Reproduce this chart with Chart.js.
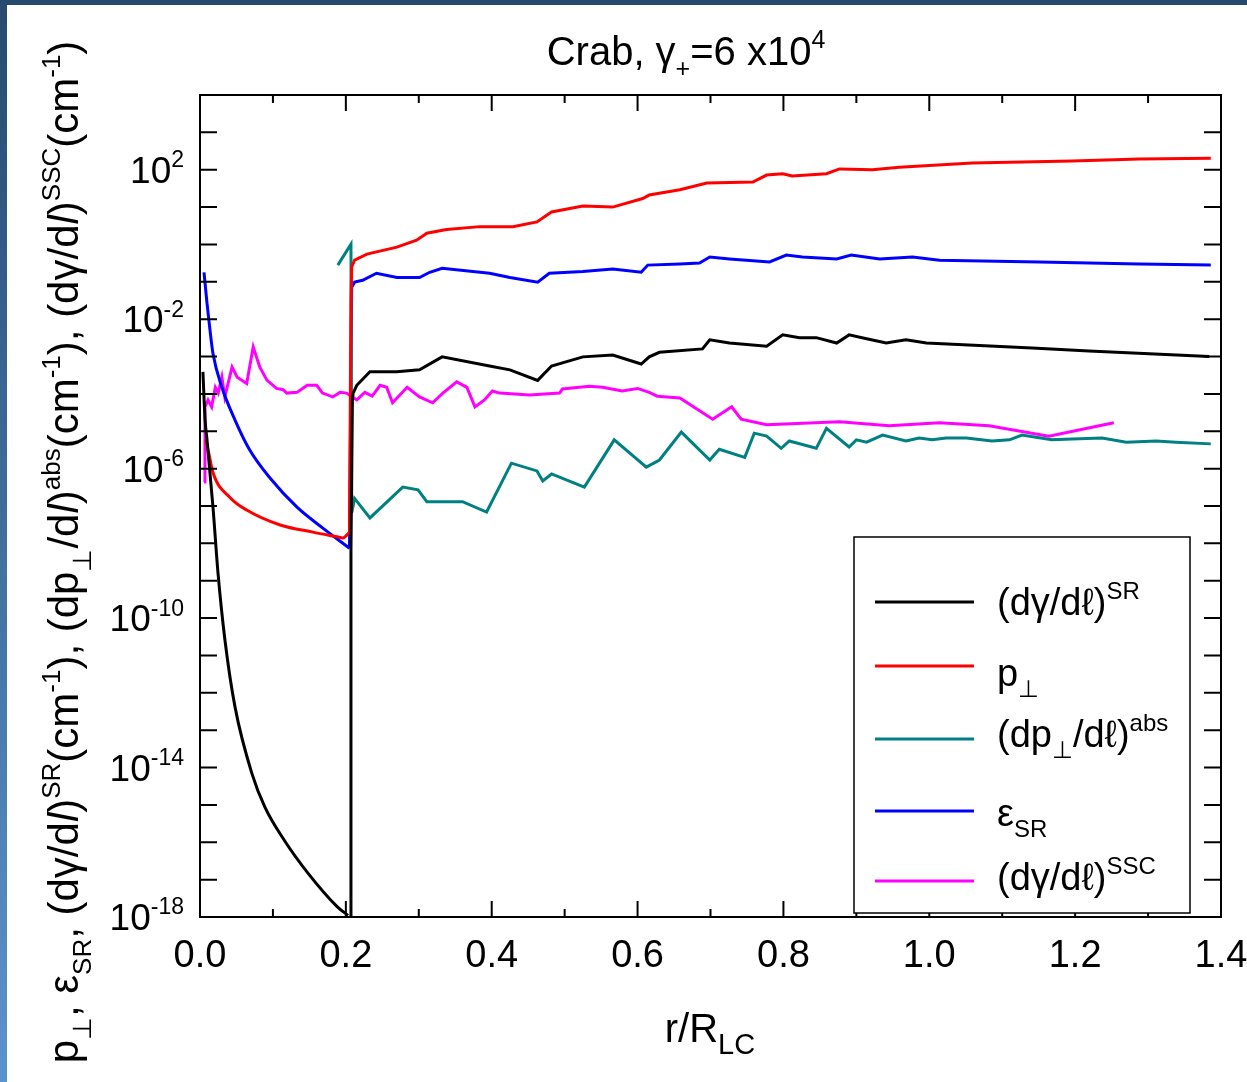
<!DOCTYPE html>
<html>
<head>
<meta charset="utf-8">
<script src="https://cdn.jsdelivr.net/npm/chart.js@4.4.1/dist/chart.umd.min.js"></script>
<style>
  html, body { margin: 0; padding: 0; background: #fff; }
</style>
</head>
<body>
<canvas id="myChart" width="1247" height="1082"></canvas>
<script>
// values (x = r/R_LC); each series split into the smooth part
// inside r < 0.2 and the jagged part after the jump at r ~ 0.2
var srLeftX = [0.004, 0.007, 0.0096, 0.0178, 0.0247, 0.0342, 0.048, 0.071, 0.089, 0.116, 0.148, 0.188, 0.203];
var srLeftY = [3.9e-4, 2.0e-5, 5.9e-6, 9.3e-8, 1.6e-9, 2.6e-11, 4.2e-13, 7.1e-15, 8.7e-16, 1.1e-16, 1.5e-17, 1.9e-18, 1.1e-18];
var srRightX = [0.207, 0.207, 0.209, 0.210, 0.215, 0.233, 0.270, 0.301, 0.332, 0.397, 0.425, 0.463, 0.482, 0.525, 0.566, 0.605,
  0.616, 0.630, 0.689, 0.699, 0.726, 0.777, 0.799, 0.822, 0.845, 0.873, 0.890, 0.914, 0.941, 0.968, 0.996, 1.141,
  1.219, 1.384];
var srRightY = [1e-18, 6.6e-9, 6.9e-5, 1.05e-4, 1.7e-4, 3.9e-4, 3.9e-4, 4.4e-4, 9.8e-4, 5.6e-4, 4.4e-4, 2.3e-4, 5.6e-4, 9.8e-4, 1.1e-3, 6.3e-4,
  9.8e-4, 1.3e-3, 1.6e-3, 2.8e-3, 2.3e-3, 1.9e-3, 3.8e-3, 3.2e-3, 3.2e-3, 2.3e-3, 3.8e-3, 3.0e-3, 2.3e-3, 2.8e-3, 2.3e-3, 1.7e-3,
  1.4e-3, 1.0e-3];

var pLeftX = [0.008, 0.012, 0.018, 0.041, 0.064, 0.110, 0.155, 0.188, 0.196, 0.205];
var pLeftY = [5.9e-6, 2.6e-6, 7.6e-7, 1.7e-7, 7.8e-8, 3.1e-8, 2.0e-8, 1.5e-8, 1.4e-8, 2.0e-8];
var pRightX = [0.205, 0.207, 0.208, 0.212, 0.229, 0.270, 0.297,
  0.311, 0.338, 0.384, 0.429, 0.462, 0.482, 0.525, 0.566, 0.607, 0.616, 0.658, 0.695, 0.758, 0.777, 0.799, 0.812, 0.859,
  0.877, 0.922, 0.959, 1.059, 1.196, 1.288, 1.386];
var pRightY = [2.0e-8, 3.2e-2, 0.25, 0.38, 0.55, 0.85, 1.3,
  2.0, 2.5, 3.0, 3.0, 4.0, 7.4, 10.7, 10, 17, 21, 29, 44, 47, 72, 78, 68, 78,
  105, 100, 117, 151, 170, 195, 204];

var absX = [0.189, 0.207, 0.208, 0.212, 0.233, 0.278, 0.299, 0.311, 0.360, 0.393, 0.427, 0.462, 0.470, 0.482, 0.527, 0.568,
  0.612, 0.630, 0.660, 0.699, 0.712, 0.747, 0.760, 0.777, 0.797, 0.808, 0.845, 0.859, 0.890, 0.900, 0.914, 0.936, 0.968,
  0.986, 1.004, 1.023, 1.051, 1.086, 1.110, 1.127, 1.168, 1.196, 1.237, 1.270, 1.311, 1.338, 1.386];
var absY = [0.28, 1.02, 6.5e-8, 1.6e-7, 4.8e-8, 3.2e-7, 2.7e-7, 1.3e-7, 1.3e-7, 6.9e-8, 1.4e-6, 8.7e-7, 4.7e-7, 7.2e-7, 3.2e-7, 5.9e-6,
  1.1e-6, 1.7e-6, 9.5e-6, 1.7e-6, 3.3e-6, 2.0e-6, 8.9e-6, 7.4e-6, 3.5e-6, 5.5e-6, 3.5e-6, 1.2e-5, 3.8e-6, 5.9e-6, 5.1e-6, 7.9e-6, 5.5e-6,
  6.6e-6, 5.9e-6, 6.6e-6, 6.6e-6, 5.5e-6, 5.9e-6, 7.9e-6, 5.9e-6, 6.2e-6, 6.6e-6, 5.1e-6, 5.5e-6, 5.1e-6, 4.6e-6];

var epsLeftX = [0.0055, 0.0096, 0.0137, 0.0178, 0.030, 0.048, 0.068, 0.096, 0.133, 0.168, 0.205];
var epsLeftY = [0.18, 2.7e-2, 5.1e-3, 1.2e-3, 1.5e-4, 2.0e-5, 3.2e-6, 5.6e-7, 9.3e-8, 2.6e-8, 7.4e-9];
var epsRightX = [0.205, 0.208, 0.212, 0.223, 0.242,
  0.270, 0.301, 0.315, 0.332, 0.397, 0.425, 0.463, 0.479, 0.525, 0.566, 0.605, 0.614, 0.658, 0.685, 0.699, 0.726, 0.781,
  0.804, 0.826, 0.873, 0.893, 0.932, 0.977, 1.014, 1.151, 1.288, 1.386];
var epsRightY = [7.4e-9, 7.2e-2, 9.8e-2, 0.11, 0.17,
  0.13, 0.13, 0.18, 0.23, 0.17, 0.13, 9.8e-2, 0.17, 0.19, 0.22, 0.18, 0.28, 0.30, 0.32, 0.46, 0.41, 0.34,
  0.52, 0.46, 0.41, 0.52, 0.41, 0.46, 0.38, 0.34, 0.30, 0.28];

var sscX = [0.0055, 0.0068, 0.011, 0.016, 0.021, 0.025, 0.030, 0.034, 0.044, 0.051, 0.064, 0.073, 0.082, 0.092, 0.105,
  0.114, 0.119, 0.133, 0.147, 0.160, 0.168, 0.182, 0.192, 0.201, 0.215, 0.226, 0.236, 0.247, 0.256, 0.264, 0.284, 0.301,
  0.319, 0.333, 0.352, 0.366, 0.377, 0.390, 0.401, 0.411, 0.452, 0.493, 0.497, 0.534, 0.552, 0.579, 0.600, 0.616, 0.627,
  0.658, 0.703, 0.729, 0.742, 0.777, 0.877, 0.945, 1.014, 1.082, 1.164, 1.253];
var sscY = [4.4e-7, 4.5e-5, 6.9e-5, 4.5e-5, 1.5e-4, 1.05e-4, 2.8e-4, 8.3e-5, 5.2e-4, 2.8e-4, 1.9e-4, 1.8e-3, 5.2e-4, 2.3e-4, 1.4e-4,
  1.3e-4, 1.05e-4, 1.1e-4, 1.7e-4, 1.7e-4, 1.05e-4, 8.3e-5, 1.1e-4, 1.05e-4, 6.9e-5, 1.1e-4, 8.7e-5, 1.7e-4, 1.5e-4, 5.8e-5, 1.5e-4, 8.3e-5,
  5.8e-5, 1.05e-4, 2.1e-4, 1.5e-4, 4.5e-5, 6.9e-5, 1.2e-4, 1.05e-4, 9.3e-5, 1.05e-4, 1.35e-4, 1.6e-4, 1.5e-4, 1.2e-4, 1.4e-4, 1.1e-4, 8.7e-5,
  7.8e-5, 2.1e-5, 4.5e-5, 2.1e-5, 1.5e-5, 1.8e-5, 1.4e-5, 1.7e-5, 1.4e-5, 7.4e-6, 1.7e-5];

// tick labels
var xTickValues = [0, 0.2, 0.4, 0.6, 0.8, 1.0, 1.2, 1.4];
var xTickLabels = ["0.0", "0.2", "0.4", "0.6", "0.8", "1.0", "1.2", "1.4"];
var xMinorValues = [0.1, 0.3, 0.5, 0.7, 0.9, 1.1, 1.3];
var yLabelExps = [2, -2, -6, -10, -14, -18];

var seriesColors = ["#000000", "#ff0000", "#008080", "#0000ff", "#ff00ff"];

var FONT = "'Liberation Sans', Arial, Helvetica, sans-serif";

// rich text pieces: plain, sup, sub, italic
function N(t) { return { t: t }; }
function SUP(t) { return { t: t, k: "sup" }; }
function SUB(t, sc) { return { t: t, k: "sub", sc: sc }; }
function IT(t) { return { t: t, it: true }; }

function fontFor(s, size) {
  var px = s.k ? Math.round(size * (s.sc || 0.62)) : size;
  return (s.it ? "italic " : "") + px + "px " + FONT;
}

function drawRich(ctx, segs, x, y, size, align) {
  var w = 0;
  segs.forEach(function (s) {
    ctx.font = fontFor(s, size);
    w += ctx.measureText(s.t).width;
  });
  var cx = align === "center" ? x - w / 2 : align === "right" ? x - w : x;
  ctx.textAlign = "left";
  ctx.textBaseline = "alphabetic";
  segs.forEach(function (s) {
    ctx.font = fontFor(s, size);
    var dy = s.k === "sup" ? -0.42 * size : s.k === "sub" ? 0.3 * size : 0;
    ctx.fillText(s.t, cx, y + dy);
    cx += ctx.measureText(s.t).width;
  });
}

var legendLabels = [
  [N("(dγ/dℓ)"), SUP("SR")],
  [N("p"), SUB("⊥")],
  [N("(dp"), SUB("⊥"), N("/dℓ)"), SUP("abs")],
  [N("ε"), SUB("SR")],
  [N("(dγ/dℓ)"), SUP("SSC")]
];

var yTitle = [N("p"), SUB("⊥"), N(", ε"), SUB("SR"), N(", (dγ/d"), IT("l"), N(")"), SUP("SR"), N("(cm"), SUP("-1"),
  N("), (dp"), SUB("⊥"), N("/d"), IT("l"), N(")"), SUP("abs"), N("(cm"), SUP("-1"),
  N("), (dγ/d"), IT("l"), N(")"), SUP("SSC"), N("(cm"), SUP("-1"), N(")")];

function pts(xs, ys) {
  return xs.map(function (x, i) { return { x: x, y: ys[i] }; });
}

var framePlugin = {
  id: "frame",
  beforeDraw: function (chart) {
    var ctx = chart.ctx;
    ctx.save();
    ctx.fillStyle = "#ffffff";
    ctx.fillRect(0, 0, chart.width, chart.height);
    var g = ctx.createLinearGradient(0, 0, 0, chart.height);
    g.addColorStop(0, "#284a70");
    g.addColorStop(1, "#5b93cd");
    ctx.fillStyle = g;
    ctx.fillRect(0, 0, 7, chart.height);
    ctx.fillStyle = "#26496e";
    ctx.fillRect(0, 0, chart.width, 5);
    ctx.restore();
  },
  afterDatasetsDraw: function (chart) {
    var ctx = chart.ctx;
    var a = chart.chartArea;
    var xs = chart.scales.x, ys = chart.scales.y;
    ctx.save();
    ctx.strokeStyle = "#000";
    ctx.fillStyle = "#000";
    ctx.lineWidth = 2;
    ctx.strokeRect(a.left, a.top, a.right - a.left, a.bottom - a.top);

    ctx.beginPath();
    xTickValues.forEach(function (v) {
      var px = xs.getPixelForValue(v);
      ctx.moveTo(px, a.bottom); ctx.lineTo(px, a.bottom - 16);
      ctx.moveTo(px, a.top); ctx.lineTo(px, a.top + 16);
    });
    xMinorValues.forEach(function (v) {
      var px = xs.getPixelForValue(v);
      ctx.moveTo(px, a.bottom); ctx.lineTo(px, a.bottom - 8);
      ctx.moveTo(px, a.top); ctx.lineTo(px, a.top + 8);
    });
    for (var e = -17; e <= 3; e++) {
      var py = ys.getPixelForValue(Math.pow(10, e));
      ctx.moveTo(a.left, py); ctx.lineTo(a.left + 17, py);
      ctx.moveTo(a.right, py); ctx.lineTo(a.right - 17, py);
    }
    ctx.stroke();

    // tick labels
    xTickValues.forEach(function (v, i) {
      drawRich(ctx, [N(xTickLabels[i])], xs.getPixelForValue(v), 967, 38, "center");
    });
    yLabelExps.forEach(function (ex) {
      var py = ys.getPixelForValue(Math.pow(10, ex));
      drawRich(ctx, [N("10"), SUP(String(ex))], 184, py + 13, 37, "right");
    });

    // titles
    drawRich(ctx, [N("Crab, γ"), SUB("+"), N("=6 x10"), SUP("4")], 686, 65, 40, "center");
    drawRich(ctx, [N("r/R"), SUB("LC", 0.72)], 710, 1042, 40, "center");
    ctx.save();
    ctx.translate(78, 552);
    ctx.rotate(-Math.PI / 2);
    drawRich(ctx, yTitle, 0, 0, 42, "center");
    ctx.restore();

    // legend box
    var lx = 854, ly = 537, lw = 336, lh = 376;
    ctx.fillStyle = "#fff";
    ctx.fillRect(lx, ly, lw, lh);
    ctx.lineWidth = 1.5;
    ctx.strokeRect(lx, ly, lw, lh);
    var lineYs = [602, 666, 739, 811, 881];
    var baseYs = [615, 686, 747, 826, 890];
    seriesColors.forEach(function (c, i) {
      ctx.strokeStyle = c;
      ctx.lineWidth = 3;
      ctx.beginPath();
      ctx.moveTo(875, lineYs[i]);
      ctx.lineTo(974, lineYs[i]);
      ctx.stroke();
      ctx.fillStyle = "#000";
      drawRich(ctx, legendLabels[i], 997, baseYs[i], 38, "left");
    });
    ctx.restore();
  }
};

function smooth(label, data, color) {
  return { label: label, data: data, borderColor: color, cubicInterpolationMode: "monotone" };
}
function jagged(label, data, color) {
  return { label: label, data: data, borderColor: color };
}

var ctx = document.getElementById("myChart").getContext("2d");
var myChart = new Chart(ctx, {
  type: "line",
  data: {
    datasets: [
      smooth("(dγ/dl)SR", pts(srLeftX, srLeftY), seriesColors[0]),
      jagged("(dγ/dl)SR", pts(srRightX, srRightY), seriesColors[0]),
      smooth("p⊥", pts(pLeftX, pLeftY), seriesColors[1]),
      jagged("p⊥", pts(pRightX, pRightY), seriesColors[1]),
      jagged("(dp⊥/dl)abs", pts(absX, absY), seriesColors[2]),
      smooth("εSR", pts(epsLeftX, epsLeftY), seriesColors[3]),
      jagged("εSR", pts(epsRightX, epsRightY), seriesColors[3]),
      jagged("(dγ/dl)SSC", pts(sscX, sscY), seriesColors[4])
    ]
  },
  options: {
    responsive: false,
    devicePixelRatio: 1,
    animation: false,
    layout: { padding: { left: 200, top: 95, right: 26, bottom: 165 } },
    elements: {
      line: { borderWidth: 3, tension: 0, fill: false },
      point: { radius: 0, hoverRadius: 0 }
    },
    plugins: { legend: { display: false }, tooltip: { enabled: false } },
    scales: {
      x: { type: "linear", min: 0, max: 1.4, display: false },
      y: { type: "logarithmic", min: 1e-18, max: 1e4, display: false }
    }
  },
  plugins: [framePlugin]
});
</script>
</body>
</html>
